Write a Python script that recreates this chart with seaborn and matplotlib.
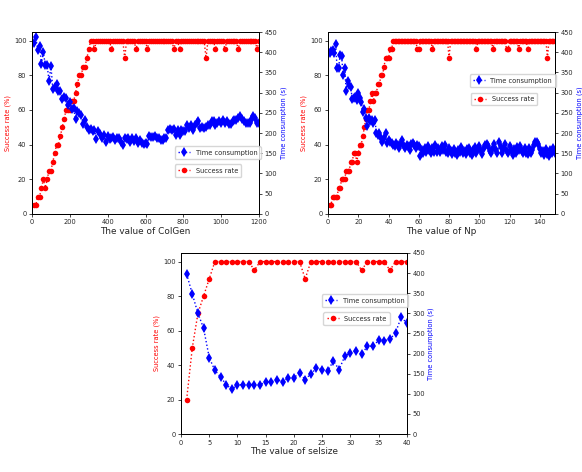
import numpy as np
import matplotlib
matplotlib.use("Agg")
import matplotlib.pyplot as plt
import seaborn as sns

# ColGen panel: x = 10..1200 step 10
colgen_x = np.arange(10, 1210, 10)
colgen_success = [
    5, 5, 10, 10, 15, 20, 15, 20, 25, 25,
    30, 35, 40, 40, 45, 50, 55, 60, 60, 60,
    65, 65, 70, 75, 80, 80, 85, 85, 90, 95,
    100, 100, 95, 100, 100, 100, 100, 100, 100, 100,
    100, 95, 100, 100, 100, 100, 100, 100, 90, 100,
    100, 100, 100, 100, 95, 100, 100, 100, 100, 100,
    95, 100, 100, 100, 100, 100, 100, 100, 100, 100,
    100, 100, 100, 100, 95, 100, 100, 95, 100, 100,
    100, 100, 100, 100, 100, 100, 100, 100, 100, 100,
    100, 90, 100, 100, 100, 100, 95, 100, 100, 100,
    100, 95, 100, 100, 100, 100, 100, 100, 95, 100,
    100, 100, 100, 100, 100, 100, 100, 100, 95, 100,
]
colgen_time = [
    424, 438, 406, 416, 372, 400, 369, 369, 328, 367,
    309, 315, 321, 303, 303, 285, 289, 287, 270, 278,
    259, 262, 234, 255, 249, 245, 223, 233, 215, 208,
    210, 206, 208, 185, 204, 198, 187, 195, 179, 192,
    186, 187, 190, 183, 187, 187, 178, 171, 187, 186,
    187, 179, 187, 181, 187, 176, 183, 175, 173, 175,
    173, 192, 190, 190, 192, 188, 187, 182, 182, 187,
    187, 208, 210, 208, 210, 196, 208, 196, 208, 204,
    204, 220, 212, 220, 208, 220, 225, 229, 212, 215,
    212, 215, 220, 220, 229, 229, 220, 225, 229, 225,
    233, 225, 229, 223, 223, 229, 233, 233, 237, 241,
    235, 229, 225, 225, 225, 233, 241, 238, 225, 225,
]

# Np panel: x = 1..150
np_x = np.arange(1, 151)
np_success = [
    5, 5, 10, 10, 10, 10, 15, 15, 20, 20,
    20, 25, 25, 25, 30, 30, 35, 35, 30, 35,
    40, 40, 45, 50, 55, 60, 60, 65, 70, 65,
    70, 70, 75, 75, 80, 80, 85, 90, 90, 90,
    95, 95, 100, 100, 100, 100, 100, 100, 100, 100,
    100, 100, 100, 100, 100, 100, 100, 100, 95, 95,
    100, 100, 100, 100, 100, 100, 100, 100, 95, 100,
    100, 100, 100, 100, 100, 100, 100, 100, 100, 90,
    100, 100, 100, 100, 100, 100, 100, 100, 100, 100,
    100, 100, 100, 100, 100, 100, 100, 95, 100, 100,
    100, 100, 100, 100, 100, 100, 100, 100, 95, 100,
    100, 100, 100, 100, 100, 100, 100, 95, 95, 100,
    100, 100, 100, 100, 100, 95, 100, 100, 100, 100,
    100, 95, 100, 100, 100, 100, 100, 100, 100, 100,
    100, 100, 100, 100, 90, 100, 100, 100, 100, 100,
]
np_time = [
    398, 402, 406, 398, 421, 361, 361, 394, 390, 344,
    361, 305, 328, 320, 315, 284, 287, 289, 282, 300,
    287, 278, 251, 259, 237, 218, 237, 229, 233, 225,
    233, 200, 196, 200, 187, 179, 187, 201, 175, 183,
    179, 175, 171, 167, 175, 171, 163, 175, 182, 167,
    163, 171, 167, 159, 173, 175, 171, 163, 171, 167,
    144, 159, 150, 163, 154, 167, 157, 150, 163, 154,
    171, 152, 163, 154, 167, 159, 171, 154, 150, 163,
    155, 148, 160, 150, 145, 158, 152, 165, 150, 155,
    148, 160, 162, 150, 145, 157, 165, 150, 160, 168,
    155, 148, 163, 170, 172, 168, 155, 150, 162, 172,
    158, 150, 177, 165, 150, 163, 172, 155, 150, 168,
    158, 145, 160, 150, 165, 158, 168, 155, 150, 162,
    150, 148, 162, 150, 158, 170, 177, 178, 172, 160,
    150, 155, 145, 160, 148, 143, 158, 150, 162, 150,
]

# selsize panel: x = 1..40
sel_x = np.arange(1, 41)
sel_success = [
    20, 50, 70, 80, 90, 100, 100, 100, 100, 100,
    100, 100, 95, 100, 100, 100, 100, 100, 100, 100,
    100, 90, 100, 100, 100, 100, 100, 100, 100, 100,
    100, 95, 100, 100, 100, 100, 95, 100, 100, 100,
]
sel_time = [
    398, 348, 300, 263, 190, 158, 142, 123, 111, 123,
    122, 123, 123, 122, 130, 130, 135, 130, 140, 140,
    152, 135, 150, 163, 160, 157, 182, 160, 193, 202,
    207, 198, 218, 218, 233, 232, 235, 252, 290, 276,
]

panels = [
    (colgen_x, colgen_success, colgen_time, "The value of ColGen", 1200,
     [0.055, 0.547, 0.390, 0.385], (0.615, 0.39), (0.615, 0.29)),
    (np_x, np_success, np_time, "The value of Np", 150,
     [0.5636, 0.547, 0.390, 0.385], (0.61, 0.785), (0.615, 0.685)),
    (sel_x, sel_success, sel_time, "The value of selsize", 40,
     [0.311, 0.0805, 0.388, 0.3835], (0.61, 0.79), (0.615, 0.69)),
]

sns.set_style("white")
plt.rcParams["font.family"] = ["DejaVu Sans"]

fig = plt.figure(figsize=(5.82, 4.72), dpi=100)

for x, succ, tm, xlabel, xmax, rect, loc_t, loc_s in panels:
    ax = fig.add_axes(rect)
    ax2 = ax.twinx()

    sns.lineplot(x=x, y=succ, ax=ax, color="red", marker="o", linestyle=":",
                 linewidth=1.0, markersize=4.0, markeredgewidth=0, label="Success rate")
    sns.lineplot(x=x, y=tm, ax=ax2, color="blue", marker="d", linestyle=":",
                 linewidth=1.0, markersize=5.0, markeredgewidth=0, label="Time consumption")

    ax.set_xlim(0, xmax)
    ax.set_ylim(0, 105)
    ax2.set_ylim(0, 450)
    ax.set_yticks([0, 20, 40, 60, 80, 100])
    ax2.set_yticks(range(0, 451, 50))

    ax.set_xlabel(xlabel, fontsize=6.4, labelpad=1)
    ax.set_ylabel("Success rate (%)", color="red", fontsize=4.8, labelpad=2)
    ax2.set_ylabel("Time consumption (s)", color="blue", fontsize=4.8, labelpad=2)

    for a in (ax, ax2):
        a.tick_params(labelsize=4.8, length=2.5, width=0.6, pad=1.5,
                      left=(a is ax), right=(a is ax2), bottom=True)
        for s in a.spines.values():
            s.set_linewidth(0.7)
            s.set_color("black")

    h_s, l_s = ax.get_legend_handles_labels()
    h_t, l_t = ax2.get_legend_handles_labels()
    if ax.get_legend() is not None:
        ax.get_legend().remove()
    leg_t = ax2.legend(h_t, l_t, loc="upper left", bbox_to_anchor=loc_t,
                       fontsize=4.8, frameon=True, borderpad=0.5, handlelength=1.8)
    ax2.add_artist(leg_t)
    ax2.legend(h_s, l_s, loc="upper left", bbox_to_anchor=loc_s,
               fontsize=4.8, frameon=True, borderpad=0.5, handlelength=1.8)

fig.savefig("out.png", dpi=100)
